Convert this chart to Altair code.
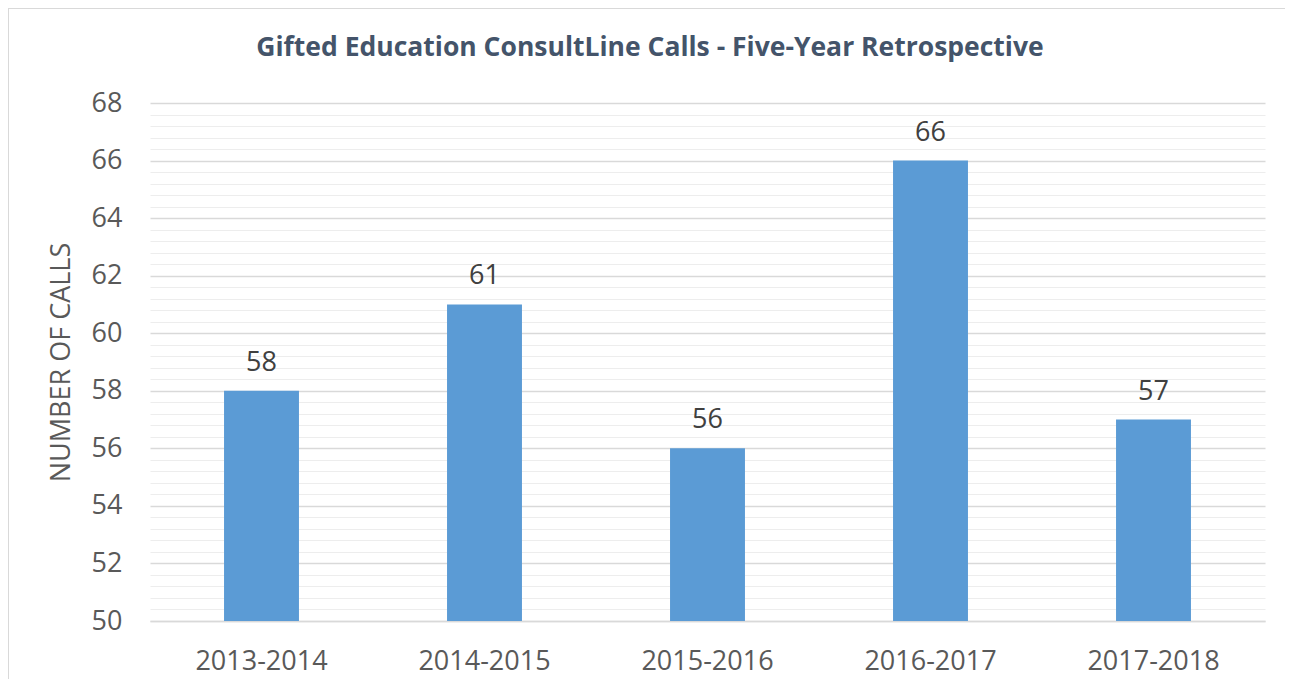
import altair as alt
import pandas as pd

years = ["2013-2014", "2014-2015", "2015-2016", "2016-2017", "2017-2018"]
calls = [58, 61, 56, 66, 57]
tick_values = [round(50 + 0.4 * i, 1) for i in range(46)]
title_text = ["Gifted Education ConsultLine Calls - Five-Year Retrospective"]

df = pd.DataFrame({"year": years, "calls": calls})

FONT = "Open Sans"
FS = 27

x = alt.X("year:N", sort=years, title=None,
          scale=alt.Scale(paddingInner=0.664, paddingOuter=0.332),
          axis=alt.Axis(labelFontSize=FS, labelColor="#595959", labelFont=FONT,
                        labelPadding=27, ticks=False, domainColor="#D9D9D9",
                        domainWidth=1.5, labelAngle=0))
y = alt.Y("calls:Q", title="NUMBER OF CALLS",
          scale=alt.Scale(domain=[50, 68], nice=False, zero=False),
          axis=alt.Axis(values=tick_values, tickCount=200,
                        labelExpr="datum.value % 2 === 0 ? format(datum.value, 'd') : ''",
                        labelOverlap=False,
                        labelFontSize=FS, labelColor="#595959", labelFont=FONT,
                        labelPadding=28, ticks=False, domain=False,
                        gridColor={"condition": {"test": "datum.value % 2 === 0", "value": "#D9D9D9"}, "value": "#EDEDED"},
                        gridWidth={"condition": {"test": "datum.value % 2 === 0", "value": 1.5}, "value": 1.2},
                        titleFontSize=FS, titleFont=FONT, titleColor="#595959",
                        titleFontWeight="normal", titlePadding=16))

frame_df = pd.DataFrame({"a": [0]})
border_top = alt.Chart(frame_df).mark_rule(color="#D9D9D9", strokeWidth=2).encode(
    x=alt.value(-142), x2=alt.value(1500), y=alt.value(-95))
border_left = alt.Chart(frame_df).mark_rule(color="#D9D9D9", strokeWidth=2).encode(
    x=alt.value(-142), y=alt.value(-95), y2=alt.value(800))

title = alt.Chart(pd.DataFrame({"t": title_text})).mark_text(
    fontSize=26.5, font=FONT, fontWeight="bold", color="#44546A",
    align="center", baseline="middle"
).encode(x=alt.value(500), y=alt.value(-55), text="t:N")

bars = alt.Chart(df).mark_bar(color="#5B9BD5", clip=True).encode(x=x, y=y)

labels = alt.Chart(df).mark_text(
    dy=-14, baseline="bottom", fontSize=FS, font=FONT, color="#404040"
).encode(x=alt.X("year:N", sort=years), y="calls:Q", text="calls:Q")

chart = alt.layer(border_top, border_left, bars, labels, title).properties(
    width=1115, height=518,
    autosize=alt.AutoSizeParams(type="none"),
    padding={"left": 142, "top": 95, "right": 20, "bottom": 58},
).configure_view(stroke=None)

chart.save("out.html", embed_options={"renderer": "svg", "actions": False})
